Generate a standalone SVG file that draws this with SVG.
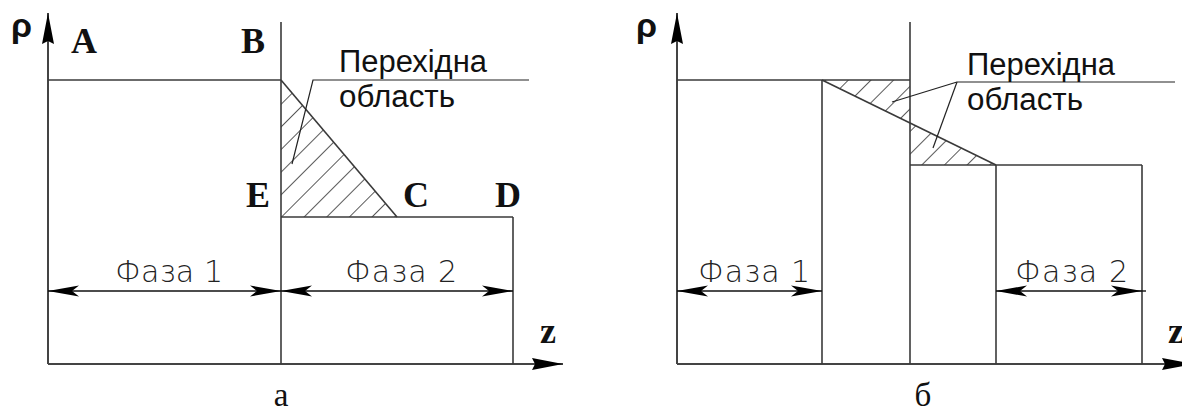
<svg xmlns="http://www.w3.org/2000/svg" width="1182" height="414" viewBox="0 0 1182 414">
<style>
.ln{stroke:#3a3a3a;stroke-width:1.6;fill:none}
.ax{stroke:#444;stroke-width:2;fill:none}
.dim{stroke:#111;stroke-width:1.4;fill:none}
.lead{stroke:#222;stroke-width:1.2;fill:none}
.pt{font-family:"Liberation Serif",serif;font-weight:bold;font-size:36px;fill:#111}
.rho{font-family:"Liberation Sans",sans-serif;font-weight:bold;font-size:34px;fill:#111}
.lbl{font-family:"Liberation Sans",Arial,sans-serif;font-size:31px;fill:#111}
.ph{font-family:"DejaVu Sans",sans-serif;font-weight:200;font-size:30px;fill:#222}
.cap{font-family:"Liberation Serif",serif;font-size:33px;fill:#111;text-anchor:middle}
</style>
<defs>
<pattern id="hatch" patternUnits="userSpaceOnUse" width="16" height="16" patternTransform="rotate(45)">
<line x1="0" y1="-2" x2="0" y2="18" stroke="#222" stroke-width="1.5"/>
</pattern>
<marker id="dimarrow" markerUnits="userSpaceOnUse" viewBox="-32 -7 33 14" refX="0" refY="0" markerWidth="33" markerHeight="14" orient="auto-start-reverse">
<path d="M0,0 L-31,-5.5 L-24,0 L-31,5.5 Z" fill="#000"/>
</marker>
<marker id="axarrow" markerUnits="userSpaceOnUse" viewBox="-32 -7 33 14" refX="0" refY="0" markerWidth="33" markerHeight="14" orient="auto">
<path d="M0,0 L-31,-6 L-28,0 L-31,6 Z" fill="#000"/>
</marker>
</defs>
<rect width="1182" height="414" fill="#fff"/>

<g id="diagram-a">
<g id="a-hatch">
<polygon points="281,80 281,217 397,217" fill="url(#hatch)"/>
</g>
<g id="a-connectors">
<line class="ax" x1="48" y1="364" x2="48" y2="13" marker-end="url(#axarrow)"/>
<line class="ax" x1="48" y1="364" x2="563" y2="364" marker-end="url(#axarrow)"/>
<line class="ln" x1="48" y1="80" x2="281" y2="80"/>
<line class="ln" x1="281" y1="22" x2="281" y2="364"/>
<line class="ln" x1="281" y1="80" x2="397" y2="217"/>
<line class="ln" x1="281" y1="217" x2="513" y2="217"/>
<line class="ln" x1="513" y1="217" x2="513" y2="364"/>
<polyline class="lead" points="529,80 313,80 292,164"/>
<line class="dim" x1="48" y1="291" x2="281" y2="291" marker-start="url(#dimarrow)" marker-end="url(#dimarrow)"/>
<line class="dim" x1="281" y1="291" x2="513" y2="291" marker-start="url(#dimarrow)" marker-end="url(#dimarrow)"/>
</g>
<g id="a-labels">
<text class="rho" x="11" y="37">ρ</text>
<text class="pt" x="71" y="53">A</text>
<text class="pt" x="241" y="53">B</text>
<text class="pt" x="246" y="207">E</text>
<text class="pt" x="403" y="207">C</text>
<text class="pt" x="495" y="207">D</text>
<text class="pt" x="540" y="343">z</text>
<text class="lbl" x="339" y="72" textLength="148" lengthAdjust="spacingAndGlyphs">Перехідна</text>
<text class="lbl" x="339" y="107" textLength="116" lengthAdjust="spacingAndGlyphs">область</text>
<text class="ph" x="115" y="282" textLength="108">Фаза 1</text>
<text class="ph" x="345" y="282" textLength="112">Фаза 2</text>
<text class="cap" x="281" y="406">а</text>
</g>
</g>

<g id="diagram-b">
<g id="b-hatch">
<polygon points="822,80 910,80 910,123" fill="url(#hatch)"/>
<polygon points="910,123 910,165 996,165" fill="url(#hatch)"/>
</g>
<g id="b-connectors">
<line class="ax" x1="677" y1="364" x2="677" y2="13" marker-end="url(#axarrow)"/>
<line class="ax" x1="677" y1="364" x2="1193" y2="364" marker-end="url(#axarrow)"/>
<line class="ln" x1="677" y1="80" x2="910" y2="80"/>
<line class="ln" x1="910" y1="22" x2="910" y2="364"/>
<line class="ln" x1="822" y1="80" x2="822" y2="364"/>
<line class="ln" x1="822" y1="80" x2="996" y2="165"/>
<line class="ln" x1="910" y1="165" x2="1142" y2="165"/>
<line class="ln" x1="996" y1="165" x2="996" y2="364"/>
<line class="ln" x1="1142" y1="165" x2="1142" y2="364"/>
<line class="lead" x1="957" y1="82" x2="1175" y2="82"/>
<line class="lead" x1="957" y1="82" x2="892" y2="102"/>
<line class="lead" x1="957" y1="82" x2="933" y2="148"/>
<line class="dim" x1="677" y1="291" x2="822" y2="291" marker-start="url(#dimarrow)" marker-end="url(#dimarrow)"/>
<line class="dim" x1="996" y1="291" x2="1142" y2="291" marker-start="url(#dimarrow)" marker-end="url(#dimarrow)"/>
<line class="dim" x1="1142" y1="291" x2="1146" y2="291"/>
</g>
<g id="b-labels">
<text class="rho" x="636" y="37">ρ</text>
<text class="pt" x="1168" y="343">z</text>
<text class="lbl" x="967" y="75" textLength="148" lengthAdjust="spacingAndGlyphs">Перехідна</text>
<text class="lbl" x="967" y="110" textLength="116" lengthAdjust="spacingAndGlyphs">область</text>
<text class="ph" x="698" y="282" textLength="112">Фаза 1</text>
<text class="ph" x="1015" y="282" textLength="113">Фаза 2</text>
<text class="cap" x="923" y="406">б</text>
</g>
</g>
</svg>
